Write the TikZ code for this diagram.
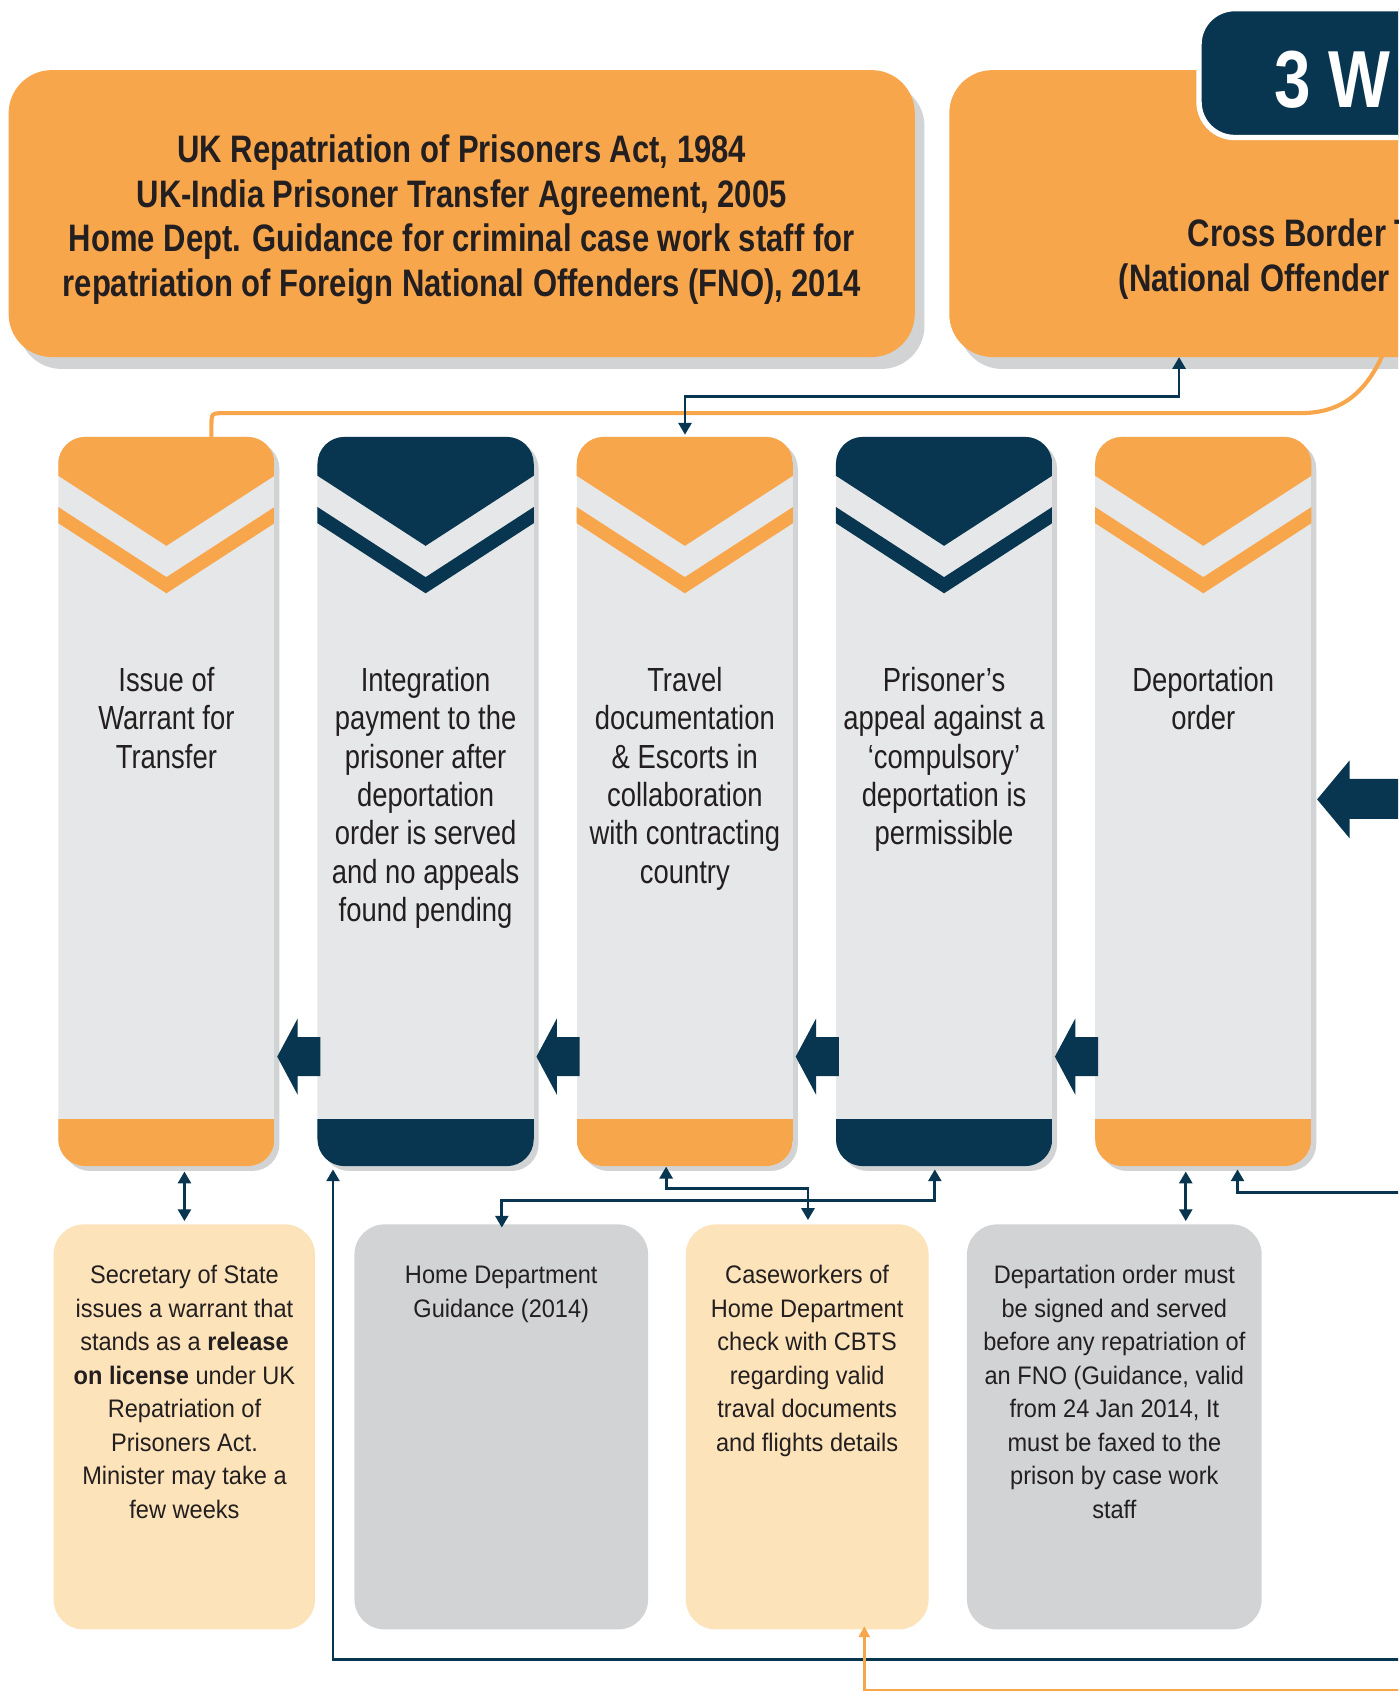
\documentclass[tikz,border=0pt]{standalone}
\usepackage{fontspec}
\setmainfont{Liberation Sans}
\newfontfamily\titlefont[FakeStretch=0.81]{Liberation Sans}
\newfontfamily\colfont[FakeStretch=0.82]{Liberation Sans}
\newfontfamily\boxfont[FakeStretch=0.93]{Liberation Sans}
\usetikzlibrary{arrows.meta}
\definecolor{orng}{HTML}{F8A64B}
\definecolor{navy}{HTML}{08354F}
\definecolor{lgray}{HTML}{E6E7E8}
\definecolor{sgray}{HTML}{D1D3D4}
\definecolor{peach}{HTML}{FDE3B9}
\definecolor{txt}{HTML}{231F20}
\tikzset{
  tip/.tip={Triangle[width=12pt,length=11pt]},
  otip/.tip={Triangle[width=10pt,length=10pt]},
  conn/.style={draw=navy, line width=2.6pt, -tip},
  dconn/.style={draw=navy, line width=2.6pt, tip-tip},
  oconn/.style={draw=orng, line width=2.5pt, -otip},
  coltext/.style={anchor=north, inner sep=0pt, align=center, text=txt,
    font=\colfont\fontsize{31}{35.5}\selectfont},
  boxtext/.style={anchor=north, inner sep=0pt, align=center, text=txt,
    font=\boxfont\fontsize{23.5}{31}\selectfont},
  titletext/.style={anchor=north, inner sep=0pt, align=center, text=txt,
    font=\titlefont\bfseries\fontsize{35.5}{41.7}\selectfont},
  cbtext/.style={anchor=base west, inner sep=0pt, text=txt,
    font=\titlefont\bfseries\fontsize{35.5}{41.7}\selectfont},
}
\newcommand{\fs}{\rule{0pt}{0.8em}}
\begin{document}
\begin{tikzpicture}[x=1pt,y=-1pt]
\useasboundingbox (0,0) rectangle (1296,1568.5);
\clip (0,0) rectangle (1296,1568.5);
\fill[white] (0,0) rectangle (1296,1568.5);

% top boxes: shadows
\fill[sgray, rounded corners=40pt] (17,77) rectangle (857,342);
\fill[sgray, rounded corners=40pt] (889,77) rectangle (1420,342);

% orange connector
\draw[orng, line width=3.8pt] (196,405) -- (196,395) .. controls (196,383) .. (208,383)
  -- (1205,383) .. controls (1240,383) and (1265,368) .. (1283,326);

% top boxes
\fill[orng, rounded corners=40pt] (8,65) rectangle (848,331);
\fill[orng, rounded corners=40pt] (880,65) rectangle (1420,331);
\filldraw[fill=navy, draw=white, line width=5pt, rounded corners=33pt] (1111.5,8) rectangle (1440,127.5);

\node[titletext] (law) at (428,121.6) {\fs UK Repatriation of Prisoners Act, 1984\\
UK-India Prisoner Transfer Agreement, 2005\\
Home Dept. Guidance for criminal case work staff for\\
repatriation of Foreign National Offenders (FNO), 2014};
\node[cbtext] (cb1) at (1101,228.7) {Cross Border T};
\node[cbtext] (cb2) at (1037,270.4) {(National Offender};
\node[anchor=base west, inner sep=0pt, text=white,
  font=\titlefont\bfseries\fontsize{75}{80}\selectfont] (three) at (1181,100) {3 W};

% columns
\foreach \i/\c in {0/orng,1/navy,2/orng,3/navy,4/orng} {
  \pgfmathsetmacro\L{54+240.3*\i}
  \pgfmathsetmacro\R{\L+200.5}
  \pgfmathsetmacro\M{\L+100.25}
  \fill[sgray, rounded corners=25pt] (\L+4.5,409.5) rectangle (\R+4.5,1085.5);
  \begin{scope}
    \clip[rounded corners=25pt] (\L,405) rectangle (\R,1081);
    \fill[lgray] (\L,400) rectangle (\R,1090);
    \fill[\c] (\L,400) -- (\L,441) -- (\M,506) -- (\R,441) -- (\R,400) -- cycle;
    \fill[\c] (\L,470) -- (\M,535) -- (\R,470) -- (\R,485) -- (\M,550) -- (\L,485) -- cycle;
    \fill[\c] (\L,1037) rectangle (\R,1090);
  \end{scope}
}

% block arrows between columns
\foreach \i in {0,1,2,3} {
  \pgfmathsetmacro\T{257+240.3*\i}
  \fill[navy] (\T,979.5) -- (\T+19,944) -- (\T+19,961.3) -- (\T+40,961.3)
    -- (\T+40,997.5) -- (\T+19,997.5) -- (\T+19,1015) -- cycle;
}
\fill[navy] (1221,741) -- (1251,705) -- (1251,722) -- (1300,722) -- (1300,759)
  -- (1251,759) -- (1251,777) -- cycle;

% column texts
\node[coltext] (c1) at (154.25,616.2) {\fs Issue of\\Warrant for\\Transfer};
\node[coltext] (c2) at (394.55,616.2) {\fs Integration\\payment to the\\prisoner after\\deportation\\order is served\\and no appeals\\found pending};
\node[coltext] (c3) at (634.85,616.2) {\fs Travel\\documentation\\\& Escorts in\\collaboration\\with contracting\\country};
\node[coltext] (c4) at (875.15,616.2) {\fs Prisoner’s\\appeal against a\\‘compulsory’\\deportation is\\permissible};
\node[coltext] (c5) at (1115.45,616.2) {\fs Deportation\\order};

% bottom boxes
\fill[peach, rounded corners=28pt] (49.7,1135) rectangle (292,1510.5);
\fill[sgray, rounded corners=28pt] (328.6,1135) rectangle (600.8,1510.5);
\fill[peach, rounded corners=28pt] (635.7,1135) rectangle (860.8,1510.5);
\fill[sgray, rounded corners=28pt] (896.4,1135) rectangle (1169.6,1510.5);

\node[boxtext] (bA) at (171,1171.2) {\fs Secretary of State\\issues a warrant that\\stands as a \textbf{release}\\\textbf{on license} under UK\\Repatriation of\\Prisoners Act.\\Minister may take a\\few weeks};
\node[boxtext] (bB) at (464.7,1171.2) {\fs Home Department\\Guidance (2014)};
\node[boxtext] (bC) at (748.2,1171.2) {\fs Caseworkers of\\Home Department\\check with CBTS\\regarding valid\\traval documents\\and flights details};
\node[boxtext] (bD) at (1033,1171.2) {\fs Departation order must\\be signed and served\\before any repatriation of\\an FNO (Guidance, valid\\from 24 Jan 2014, It\\must be faxed to the\\prison by case work\\staff};

% connector end points
\coordinate (c3top) at (635,403);
\coordinate (cbbot) at (1093,331);
\coordinate (c1bot) at (171,1086);
\coordinate (bAtop) at (171,1132);
\coordinate (c2bot) at (308.7,1084);
\coordinate (eastA) at (1300,1538);
\coordinate (c3bot) at (617.5,1081.5);
\coordinate (bCtop) at (749,1131);
\coordinate (bBtop) at (465.2,1138);
\coordinate (c4bot) at (866.6,1084);
\coordinate (c5botA) at (1099.2,1086);
\coordinate (bDtop) at (1099.2,1132);
\coordinate (c5botB) at (1147.2,1084);
\coordinate (eastB) at (1300,1105.5);
\coordinate (bCbot) at (801.2,1507.5);
\coordinate (eastC) at (1300,1566.5);

% connectors
\draw[dconn] (c3top) -- ++(0,-35.5) -| (cbbot);
\draw[dconn] (c1bot) -- (bAtop);
\draw[conn] (eastA) -| (c2bot);
\draw[dconn] (c3bot) -- ++(0,20.5) -| (bCtop);
\draw[dconn] (bBtop) -- ++(0,-25.5) -| (c4bot);
\draw[dconn] (c5botA) -- (bDtop);
\draw[conn] (eastB) -| (c5botB);
\draw[oconn] (eastC) -| (bCbot);
\end{tikzpicture}
\end{document}
